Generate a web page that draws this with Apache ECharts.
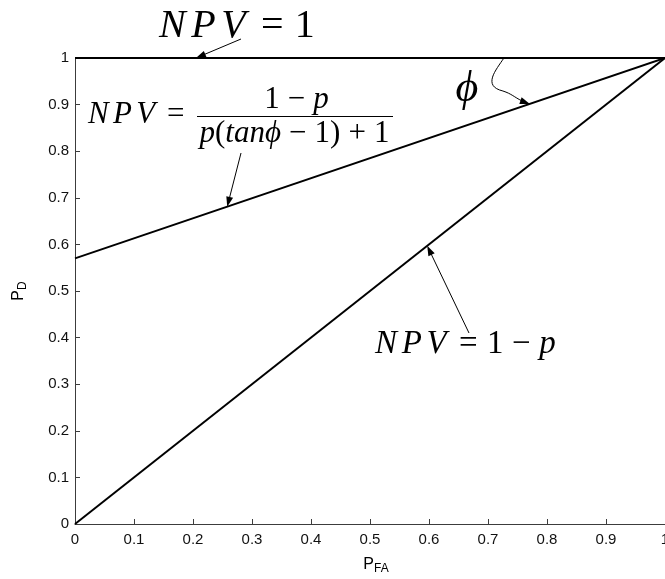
<!DOCTYPE html>
<html>
<head>
<meta charset="utf-8">
<script src="https://cdn.jsdelivr.net/npm/echarts@6/dist/echarts.min.js"></script>
<style>
  html, body { margin: 0; padding: 0; background: #fff; }
  #chart { width: 665px; height: 579px; }
</style>
</head>
<body>
<div id="chart"></div>
<script>
// False-alarm probability at the two ends of each straight line
const pfaEnds = [0, 1];
// Detection probability at those ends for each NPV curve
const pdNpvOne = [1, 1];      // NPV = 1
const pdNpvPhi = [0.57, 1];   // NPV = (1-p)/(p(tanϕ-1)+1)
const pdNpvDiag = [0, 1];     // NPV = 1-p
// Axis ticks (both axes share the same scale)
const axisMin = 0;
const axisMax = 1;
const tickStep = 0.1;

// Where each annotation arrow touches its curve (P_FA along the curve)
const arrowTouch = { one: 0.205, phi: 0.258, diag: 0.597, angle: 0.771, angleStart: 0.727 };

const chart = echarts.init(document.getElementById('chart'), null, { renderer: 'canvas' });

function lineSeries(name, pd) {
  return {
    name: name,
    type: 'line',
    data: pfaEnds.map((x, i) => [x, pd[i]]),
    symbol: 'none',
    showSymbol: false,
    clip: false,
    silent: true,
    lineStyle: { color: '#000', width: 2 }
  };
}

const tickFont = { fontFamily: 'Liberation Sans, Arial, sans-serif', fontSize: 15, color: '#111' };
const axisColor = '#3c3c3c';

chart.setOption({
  animation: false,
  backgroundColor: '#fff',
  grid: { left: 75, right: 0, top: 58, bottom: 55, containLabel: false, outerBoundsMode: 'none' },
  xAxis: {
    type: 'value', min: axisMin, max: axisMax, interval: tickStep,
    axisLine: { show: true, onZero: false, lineStyle: { color: axisColor, width: 1 } },
    axisTick: { show: true, inside: true, length: 5, lineStyle: { color: axisColor } },
    splitLine: { show: false },
    axisLabel: Object.assign({ margin: 8, showMinLabel: true, showMaxLabel: true, hideOverlap: false }, tickFont)
  },
  yAxis: {
    type: 'value', min: axisMin, max: axisMax, interval: tickStep,
    axisLine: { show: true, onZero: false, lineStyle: { color: axisColor, width: 1 } },
    axisTick: { show: true, inside: true, length: 5, lineStyle: { color: axisColor } },
    splitLine: { show: false },
    axisLabel: Object.assign({ margin: 6, showMinLabel: true, showMaxLabel: true }, tickFont)
  },
  series: [
    lineSeries('NPV = 1', pdNpvOne),
    lineSeries('NPV = (1-p)/(p(tanϕ-1)+1)', pdNpvPhi),
    lineSeries('NPV = 1-p', pdNpvDiag)
  ]
});

// ---- annotations: math labels and arrows ----
const toPx = (x, y) => chart.convertToPixel({ gridIndex: 0 }, [x, y]);
const onPhiLine = x => pdNpvPhi[0] + (pdNpvPhi[1] - pdNpvPhi[0]) * x;

function mathRich(size) {
  const serif = 'Liberation Serif, Times New Roman, serif';
  return {
    it: { fontFamily: serif, fontStyle: 'italic', fontSize: size, color: '#000', padding: [0, size * 0.14, 0, 0] },
    iv: { fontFamily: serif, fontStyle: 'italic', fontSize: size, color: '#000' },
    rm: { fontFamily: serif, fontSize: size, color: '#000' },
    op: { fontFamily: serif, fontSize: size, color: '#000', padding: [0, size * 0.28, 0, size * 0.38] },
    bin: { fontFamily: serif, fontSize: size, color: '#000', padding: [0, size * 0.26, 0, size * 0.26] }
  };
}

function mathText(text, x, y, size, align) {
  return {
    type: 'text', silent: true,
    style: { text: text, x: x, y: y, align: align || 'left', verticalAlign: 'middle', rich: mathRich(size) }
  };
}

function arrowHead(tail, tip, len, half) {
  const dx = tip[0] - tail[0], dy = tip[1] - tail[1];
  const d = Math.hypot(dx, dy);
  const ux = dx / d, uy = dy / d;
  const bx = tip[0] - ux * len, by = tip[1] - uy * len;
  return {
    type: 'polygon', silent: true,
    shape: { points: [tip, [bx - uy * half, by + ux * half], [bx + uy * half, by - ux * half]] },
    style: { fill: '#000' }
  };
}

function arrow(tail, tip) {
  const dx = tip[0] - tail[0], dy = tip[1] - tail[1];
  const d = Math.hypot(dx, dy);
  const base = [tip[0] - dx / d * 8, tip[1] - dy / d * 8];
  return [
    { type: 'line', silent: true, shape: { x1: tail[0], y1: tail[1], x2: base[0], y2: base[1] }, style: { stroke: '#000', lineWidth: 1 } },
    arrowHead(tail, tip, 10, 3.5)
  ];
}

const tipOne = toPx(arrowTouch.one, pdNpvOne[0]);
const tipPhi = toPx(arrowTouch.phi, onPhiLine(arrowTouch.phi));
const tipDiag = toPx(arrowTouch.diag, arrowTouch.diag);
const tipAngle = toPx(arrowTouch.angle, onPhiLine(arrowTouch.angle));
const angleStart = toPx(arrowTouch.angleStart, 1);

const fracBarY = 116.5;
const graphics = [
  // NPV = 1
  mathText('{it|N}{it|P}{iv|V}{op|=}{rm|1}', 159, 26, 40),
  ...arrow([241, 39], tipOne),
  // NPV = (1 - p) / (p(tanϕ - 1) + 1)
  mathText('{it|N}{it|P}{iv|V}{op|=}', 88, 114.5, 31),
  mathText('{rm|1}{bin|−}{iv|p}', 296.5, 100, 31, 'center'),
  { type: 'line', silent: true, shape: { x1: 197, y1: fracBarY, x2: 393, y2: fracBarY }, style: { stroke: '#000', lineWidth: 1.2 } },
  mathText('{iv|p}{rm|(}{iv|tan}{iv|ϕ}{bin|−}{rm|1)}{bin|+}{rm|1}', 294.5, 134, 31, 'center'),
  ...arrow([241, 153], tipPhi),
  // NPV = 1 - p
  mathText('{it|N}{it|P}{iv|V}{op|=}{rm|1}{bin|−}{iv|p}', 375, 344.5, 33),
  ...arrow([469, 333], tipDiag),
  // angle ϕ between the NPV = 1 line and the tilted line
  mathText('{iv|ϕ}', 467, 89, 44, 'center'),
  { type: 'bezierCurve', silent: true,
    shape: { x1: angleStart[0], y1: angleStart[1], cpx1: angleStart[0] - 8, cpy1: angleStart[1] + 12, cpx2: angleStart[0] - 22, cpy2: angleStart[1] + 28, x2: angleStart[0] - 1, y2: angleStart[1] + 33 },
    style: { stroke: '#000', lineWidth: 1, fill: null } },
  { type: 'bezierCurve', silent: true,
    shape: { x1: angleStart[0] - 1, y1: angleStart[1] + 33, cpx1: angleStart[0] + 8, cpy1: angleStart[1] + 36, cpx2: tipAngle[0] - 16, cpy2: tipAngle[1] - 7, x2: tipAngle[0] - 8, y2: tipAngle[1] - 3 },
    style: { stroke: '#000', lineWidth: 1, fill: null } },
  arrowHead([tipAngle[0] - 20, tipAngle[1] - 7], tipAngle, 10, 3.5),
  // axis titles with subscripts
  { type: 'text', silent: true, x: 376, y: 566,
    style: { text: '{p|P}{s|FA}', align: 'center', verticalAlign: 'middle',
      rich: { p: { fontFamily: 'Liberation Sans, Arial, sans-serif', fontSize: 16, color: '#111', lineHeight: 18, verticalAlign: 'top' },
              s: { fontFamily: 'Liberation Sans, Arial, sans-serif', fontSize: 12, color: '#111', lineHeight: 14, padding: [10, 0, 0, 0], verticalAlign: 'bottom' } } } },
  { type: 'text', silent: true, x: 20, y: 291, rotation: Math.PI / 2,
    style: { text: '{p|P}{s|D}', align: 'center', verticalAlign: 'middle',
      rich: { p: { fontFamily: 'Liberation Sans, Arial, sans-serif', fontSize: 16, color: '#111', lineHeight: 18, verticalAlign: 'top' },
              s: { fontFamily: 'Liberation Sans, Arial, sans-serif', fontSize: 12, color: '#111', lineHeight: 14, padding: [10, 0, 0, 0], verticalAlign: 'bottom' } } } }
];

chart.setOption({ graphic: { elements: graphics } });
</script>
</body>
</html>
